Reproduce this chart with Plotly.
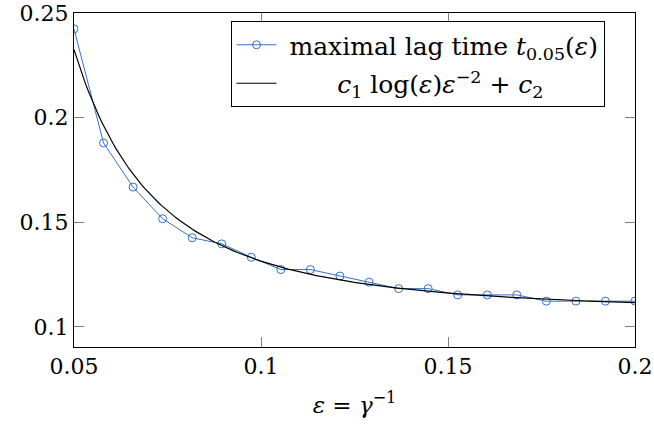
import numpy as np
import plotly.graph_objects as go

eps = [0.05, 0.0579, 0.0658, 0.0737, 0.0816, 0.0895, 0.0974, 0.1053, 0.1132, 0.1211,
       0.1289, 0.1368, 0.1447, 0.1526, 0.1605, 0.1684, 0.1763, 0.1842, 0.1921, 0.2]
lag = [0.2424, 0.1879, 0.1668, 0.1517, 0.1426, 0.1397, 0.1333, 0.1274, 0.1274, 0.1243,
       0.1214, 0.1183, 0.1183, 0.1153, 0.1153, 0.1153, 0.1123, 0.1123, 0.1123, 0.1123]

# fitted constants of c1*log(eps)*eps^-2 + c2
c1 = -1.044e-4
c2 = 0.1074
fit_x = np.linspace(0.05, 0.2, 200)
fit_y = c1 * np.log(fit_x) / fit_x**2 + c2

x_ticks = [0.05, 0.1, 0.15, 0.2]
x_ticktext = ["0.05", "0.1", "0.15", "0.2"]
y_ticks = [0.1, 0.15, 0.2, 0.25]
y_ticktext = ["0.1", "0.15", "0.2", "0.25"]

blue = "#3471c6"
font = "'DejaVu Serif', serif"

fig = go.Figure()
fig.add_trace(go.Scatter(
    x=eps, y=lag, mode="lines+markers",
    line=dict(color=blue, width=1),
    marker=dict(symbol="circle-open", size=8, color=blue, line=dict(width=1, color=blue)),
    name="\u00a0maximal lag time <i>t</i><sub>0.05</sub>(<i>ε</i>)",
    legendgroup="a",
))
fig.add_trace(go.Scatter(
    x=fit_x, y=fit_y, mode="lines",
    line=dict(color="black", width=1.2),
    name="\u00a0\u00a0\u00a0\u00a0\u00a0\u00a0\u00a0<i>c</i><sub>1</sub> log(<i>ε</i>)<i>ε</i><sup>−2</sup> + <i>c</i><sub>2</sub>",
    legendgroup="b",
))

axis_common = dict(
    showgrid=False, zeroline=False, showline=True, linecolor="black", linewidth=1,
    mirror="ticks", ticks="inside", ticklen=10, tickcolor="#808080", tickwidth=1,
    tickfont=dict(family=font, size=22, color="black"), automargin=False,
)

fig.update_layout(
    width=654, height=432,
    margin=dict(l=74, r=19, t=13, b=85),
    paper_bgcolor="white", plot_bgcolor="white",
    font=dict(family=font, size=22, color="black"),
    xaxis=dict(range=[0.05, 0.2], tickvals=x_ticks, ticktext=x_ticktext,
               title=dict(text="<i>ε</i> = <i>γ</i><sup>−1</sup>", font=dict(family=font, size=23), standoff=18),
               **axis_common),
    yaxis=dict(range=[0.0904, 0.25], tickvals=y_ticks, ticktext=y_ticktext, **axis_common),
    legend=dict(x=0.279, y=0.976, xanchor="left", yanchor="top",
                bordercolor="black", borderwidth=1, bgcolor="white",
                font=dict(family=font, size=25, color="black"),
                tracegroupgap=3, itemwidth=40),
    showlegend=True,
)

fig.write_html("out.html")
